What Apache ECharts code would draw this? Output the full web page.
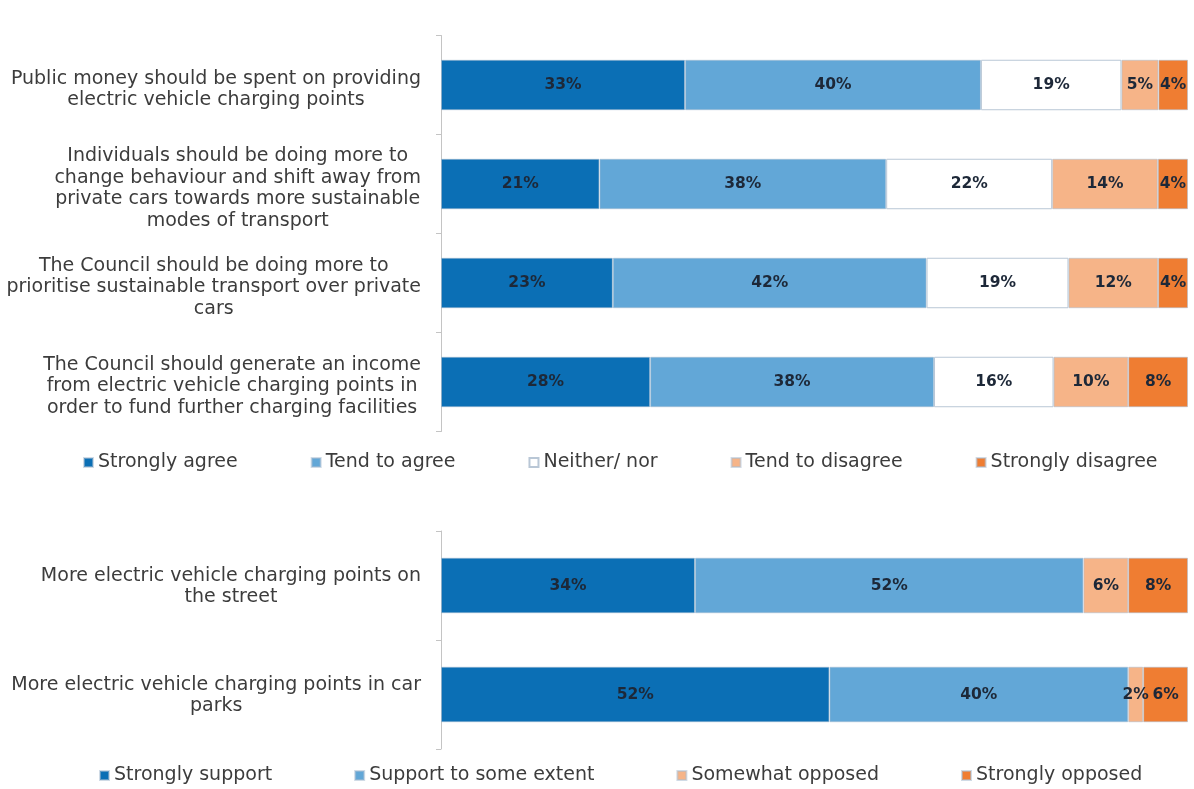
<!DOCTYPE html>
<html>
<head>
<meta charset="utf-8">
<script src="https://cdn.jsdelivr.net/npm/echarts@6/dist/echarts.min.js"></script>
<style>
  html, body { margin: 0; padding: 0; background: #ffffff; }
  #chart { width: 1194px; height: 789px; }
</style>
</head>
<body>
<div id="chart"></div>
<script>
// Attitudes towards transport statements (percent of respondents)
const agreeCategories = [
  'Public money should be spent on providing\nelectric vehicle charging points',
  'Individuals should be doing more to\nchange behaviour and shift away from\nprivate cars towards more sustainable\nmodes of transport',
  'The Council should be doing more to\nprioritise sustainable transport over private\ncars',
  'The Council should generate an income\nfrom electric vehicle charging points in\norder to fund further charging facilities'
];
const agreeNames = ['Strongly agree', 'Tend to agree', 'Neither/ nor', 'Tend to disagree', 'Strongly disagree'];
const stronglyAgree    = [33, 21, 23, 28];
const tendToAgree      = [40, 38, 42, 38];
const neitherNor       = [19, 22, 19, 16];
const tendToDisagree   = [5, 14, 12, 10];
const stronglyDisagree = [4, 4, 4, 8];

// Support for more charging points (percent of respondents)
const supportCategories = [
  'More electric vehicle charging points on\nthe street',
  'More electric vehicle charging points in car\nparks'
];
const supportNames = ['Strongly support', 'Support to some extent', 'Somewhat opposed', 'Strongly opposed'];
const stronglySupport   = [34, 52];
const supportSomeExtent = [52, 40];
const somewhatOpposed   = [6, 2];
const stronglyOpposed   = [8, 6];

const FONT = 'DejaVu Sans';
const TEXT_COLOR = '#3c3c3c';
const palette = {
  darkBlue: '#0b6fb5',
  lightBlue: '#62a7d7',
  white: '#ffffff',
  lightOrange: '#f6b488',
  orange: '#ef7d32'
};

// Each bar is shown as a 100% stacked bar: lengths are shares of the row total,
// labels show the reported percentages.
function buildSeries(names, groups, colors, axisIndex, stackId) {
  const n = groups[0].length;
  const totals = [];
  for (let i = 0; i < n; i++) {
    let t = 0;
    groups.forEach(g => { t += g[i]; });
    totals.push(t);
  }
  return groups.map((values, k) => ({
    name: names[k],
    type: 'bar',
    stack: stackId,
    xAxisIndex: axisIndex,
    yAxisIndex: axisIndex,
    barWidth: '51%',
    data: values.map((v, i) => ({ value: v / totals[i] * 100, raw: v })),
    itemStyle: {
      color: colors[k],
      borderColor: colors[k] === palette.white ? '#b9c7d6' : 'rgba(170,190,210,0.55)',
      borderWidth: 1
    },
    label: {
      show: true,
      position: 'inside',
      fontFamily: FONT,
      fontWeight: 'bold',
      fontSize: 15.5,
      color: '#1d2838',
      formatter: p => p.data.raw + '%'
    },
    emphasis: { disabled: true }
  }));
}

function categoryAxis(categories, gridIndex, topPad) {
  return {
    type: 'category',
    gridIndex: gridIndex,
    data: categories,
    inverse: true,
    axisLine: { show: true, lineStyle: { color: '#c4c4c4', width: 1 } },
    axisTick: { show: true, length: 5, lineStyle: { color: '#c4c4c4' } },
    axisLabel: {
      margin: 20,
      padding: [topPad, 0, 0, 0],
      formatter: v => v.split('\n').map(line => '{c|' + line + '}').join('\n'),
      rich: {
        c: {
          align: 'center',
          fontFamily: FONT,
          fontSize: 19,
          lineHeight: 21.5,
          color: TEXT_COLOR
        }
      }
    }
  };
}

function valueAxis(gridIndex) {
  return {
    type: 'value',
    gridIndex: gridIndex,
    min: 0,
    max: 100,
    show: false,
    splitLine: { show: false }
  };
}

const legendText = { fontFamily: FONT, fontSize: 19, color: TEXT_COLOR };

const option = {
  backgroundColor: '#ffffff',
  animation: false,
  grid: [
    { left: 441, right: 6, top: 35.5, height: 396 },
    { left: 441, right: 6, top: 531, height: 218 }
  ],
  xAxis: [valueAxis(0), valueAxis(1)],
  yAxis: [categoryAxis(agreeCategories, 0, 9), categoryAxis(supportCategories, 1, 2)],
  legend: [
    {
      data: agreeNames,
      left: 83,
      top: 453,
      padding: 0,
      icon: 'rect',
      itemWidth: 9,
      itemHeight: 9,
      itemGap: 73,
      textStyle: legendText
    },
    {
      data: supportNames,
      left: 99,
      top: 766,
      padding: 0,
      icon: 'rect',
      itemWidth: 9,
      itemHeight: 9,
      itemGap: 82,
      textStyle: legendText
    }
  ],
  series: [
    ...buildSeries(
      agreeNames,
      [stronglyAgree, tendToAgree, neitherNor, tendToDisagree, stronglyDisagree],
      [palette.darkBlue, palette.lightBlue, palette.white, palette.lightOrange, palette.orange],
      0, 'agree'
    ),
    ...buildSeries(
      supportNames,
      [stronglySupport, supportSomeExtent, somewhatOpposed, stronglyOpposed],
      [palette.darkBlue, palette.lightBlue, palette.lightOrange, palette.orange],
      1, 'support'
    )
  ]
};

const chart = echarts.init(document.getElementById('chart'), null, { renderer: 'canvas' });
chart.setOption(option);
</script>
</body>
</html>
